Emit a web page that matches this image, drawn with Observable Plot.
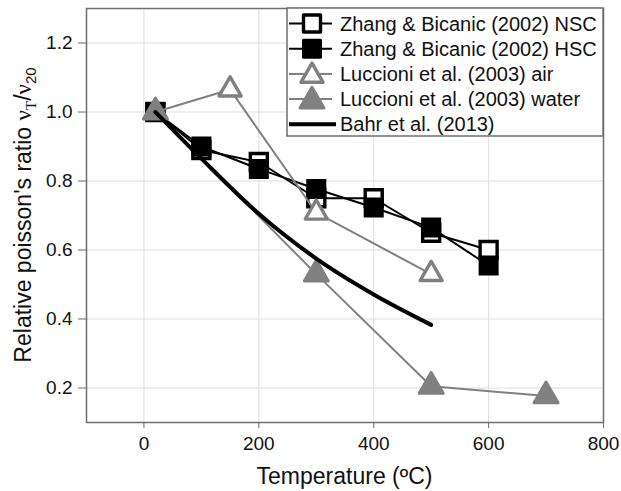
<!DOCTYPE html>
<html>
<head>
<meta charset="utf-8">
<script src="https://cdn.jsdelivr.net/npm/d3@7"></script>
<script src="https://cdn.jsdelivr.net/npm/@observablehq/plot@0.6"></script>
<style>
  html, body { margin: 0; padding: 0; background: white; }
  #chart { width: 621px; height: 491px; }
</style>
</head>
<body>
<div id="chart"></div>
<script>
// ---- Data ----
const nscT = [20, 100, 200, 300, 400, 500, 600];
const nscV = [1.0, 0.89, 0.855, 0.75, 0.75, 0.65, 0.60];
const hscT = [20, 100, 200, 300, 400, 500, 600];
const hscV = [1.0, 0.90, 0.835, 0.777, 0.723, 0.665, 0.555];
const airT = [20, 150, 300, 500];
const airV = [1.0, 1.065, 0.708, 0.53];
const waterT = [20, 300, 500, 700];
const waterV = [1.0, 0.53, 0.205, 0.177];
const bahrT = [20, 100, 200, 300, 400, 500];
const bahrV = [1.0, 0.865, 0.705, 0.575, 0.471, 0.383];

const xTicks = [0, 200, 400, 600, 800];
const yTicks = [0.2, 0.4, 0.6, 0.8, 1.0, 1.2];

const seriesNames = [
  "Zhang & Bicanic (2002) NSC",
  "Zhang & Bicanic (2002) HSC",
  "Luccioni et al. (2003) air",
  "Luccioni et al. (2003) water",
  "Bahr et al. (2013)"
];

const zip = (t, v) => t.map((x, i) => ({t: x, v: v[i]}));
const nsc = zip(nscT, nscV), hsc = zip(hscT, hscV), air = zip(airT, airV),
      water = zip(waterT, waterV), bahr = zip(bahrT, bahrV);

const GRAY = "#808080";
const AXIS = "#6e6e6e";
const FONT = "'Liberation Sans', Arial, sans-serif";

const sqR = 9.6, triRfill = 8.9, triRopen = 8.2;

const chart = Plot.plot({
  width: 621,
  height: 491,
  marginLeft: 86,
  marginRight: 18,
  marginTop: 8,
  marginBottom: 69,
  style: {fontFamily: FONT, fontSize: "19px", color: "#111", background: "white", overflow: "visible"},
  x: {domain: [-100, 800]},
  y: {domain: [0.1, 1.3]},
  marks: [
    Plot.gridX(xTicks.slice(0, 4), {stroke: "#dedede", strokeOpacity: 1, strokeWidth: 1}),
    Plot.gridY(yTicks, {stroke: "#dedede", strokeOpacity: 1, strokeWidth: 1}),
    Plot.axisX(xTicks, {tickSize: 6, tickPadding: 8, label: null, stroke: AXIS, fill: "#111", fontSize: 19}),
    Plot.axisY(yTicks, {tickSize: 8, tickPadding: 6, label: null, stroke: AXIS, fill: "#111", fontSize: 19, tickFormat: d3.format(".1f")}),
    // NSC
    Plot.line(nsc, {x: "t", y: "v", stroke: "black", strokeWidth: 2}),
    Plot.dot(nsc, {x: "t", y: "v", symbol: "square", r: sqR, fill: "white", stroke: "black", strokeWidth: 3.4}),
    // HSC
    Plot.line(hsc, {x: "t", y: "v", stroke: "black", strokeWidth: 2}),
    Plot.dot(hsc, {x: "t", y: "v", symbol: "square", r: sqR, fill: "black", stroke: "black", strokeWidth: 3}),
    // air
    Plot.line(air, {x: "t", y: "v", stroke: GRAY, strokeWidth: 2}),
    Plot.dot(air, {x: "t", y: "v", symbol: "triangle", r: triRopen, fill: "white", stroke: GRAY, strokeWidth: 3.4, strokeLinejoin: "round"}),
    // water
    Plot.line(water, {x: "t", y: "v", stroke: GRAY, strokeWidth: 2}),
    Plot.dot(water, {x: "t", y: "v", symbol: "triangle", r: triRfill, fill: GRAY, stroke: GRAY, strokeWidth: 3, strokeLinejoin: "round"}),
    // Bahr
    Plot.line(bahr, {x: "t", y: "v", stroke: "black", strokeWidth: 4, curve: "monotone-x"}),
    Plot.frame({stroke: AXIS, strokeWidth: 1.5})
  ]
});

document.getElementById("chart").appendChild(chart);

// ---- Axis labels and legend added with d3 ----
const svg = d3.select(chart);

// x label
svg.append("text")
  .attr("x", (86 + 603) / 2)
  .attr("y", 484)
  .attr("text-anchor", "middle")
  .attr("font-family", FONT)
  .attr("font-size", 23)
  .attr("fill", "#111")
  .text("Temperature (ºC)");

// y label with subscripts
const yl = svg.append("text")
  .attr("transform", "translate(31,215) rotate(-90)")
  .attr("text-anchor", "middle")
  .attr("font-family", FONT)
  .attr("font-size", 23)
  .attr("fill", "#111");
yl.append("tspan").text("Relative poisson's ratio ");
yl.append("tspan").attr("font-family", "'Liberation Serif', serif").text("ν");
yl.append("tspan").attr("font-size", 15).attr("dy", 5).attr("font-family", "'Liberation Serif', serif").text("T");
yl.append("tspan").attr("dy", -5).text("/");
yl.append("tspan").attr("font-family", "'Liberation Serif', serif").text("ν");
yl.append("tspan").attr("font-size", 15).attr("dy", 5).text("20");

// legend
const lg = svg.append("g");
lg.append("rect")
  .attr("x", 287).attr("y", 8)
  .attr("width", 603 - 287).attr("height", 128)
  .attr("fill", "white").attr("stroke", AXIS).attr("stroke-width", 1.5);

const legendItems = [
  {name: seriesNames[0], line: "black", lw: 2, sym: d3.symbolSquare, r: sqR, fill: "white", stroke: "black", sw: 3.4},
  {name: seriesNames[1], line: "black", lw: 2, sym: d3.symbolSquare, r: sqR, fill: "black", stroke: "black", sw: 3},
  {name: seriesNames[2], line: GRAY, lw: 2, sym: d3.symbolTriangle, r: triRopen, fill: "white", stroke: GRAY, sw: 3.4},
  {name: seriesNames[3], line: GRAY, lw: 2, sym: d3.symbolTriangle, r: triRfill, fill: GRAY, stroke: GRAY, sw: 3},
  {name: seriesNames[4], line: "black", lw: 4, sym: null}
];
legendItems.forEach((d, i) => {
  const cy = 23.5 + i * 25.2;
  const g = lg.append("g").attr("transform", `translate(0,${cy})`);
  g.append("line").attr("x1", 289).attr("x2", d.sym ? 332 : 336)
    .attr("stroke", d.line).attr("stroke-width", d.lw);
  if (d.sym) {
    g.append("path")
      .attr("transform", `translate(312,${d.sym === d3.symbolTriangle ? 2 : 0})`)
      .attr("d", d3.symbol(d.sym, Math.PI * d.r * d.r)())
      .attr("fill", d.fill).attr("stroke", d.stroke).attr("stroke-width", d.sw)
      .attr("stroke-linejoin", "round");
  }
  g.append("text").attr("x", 340).attr("y", 7)
    .attr("text-anchor", "start")
    .attr("font-family", FONT).attr("font-size", 20).attr("fill", "#111")
    .text(d.name);
});
</script>
</body>
</html>
